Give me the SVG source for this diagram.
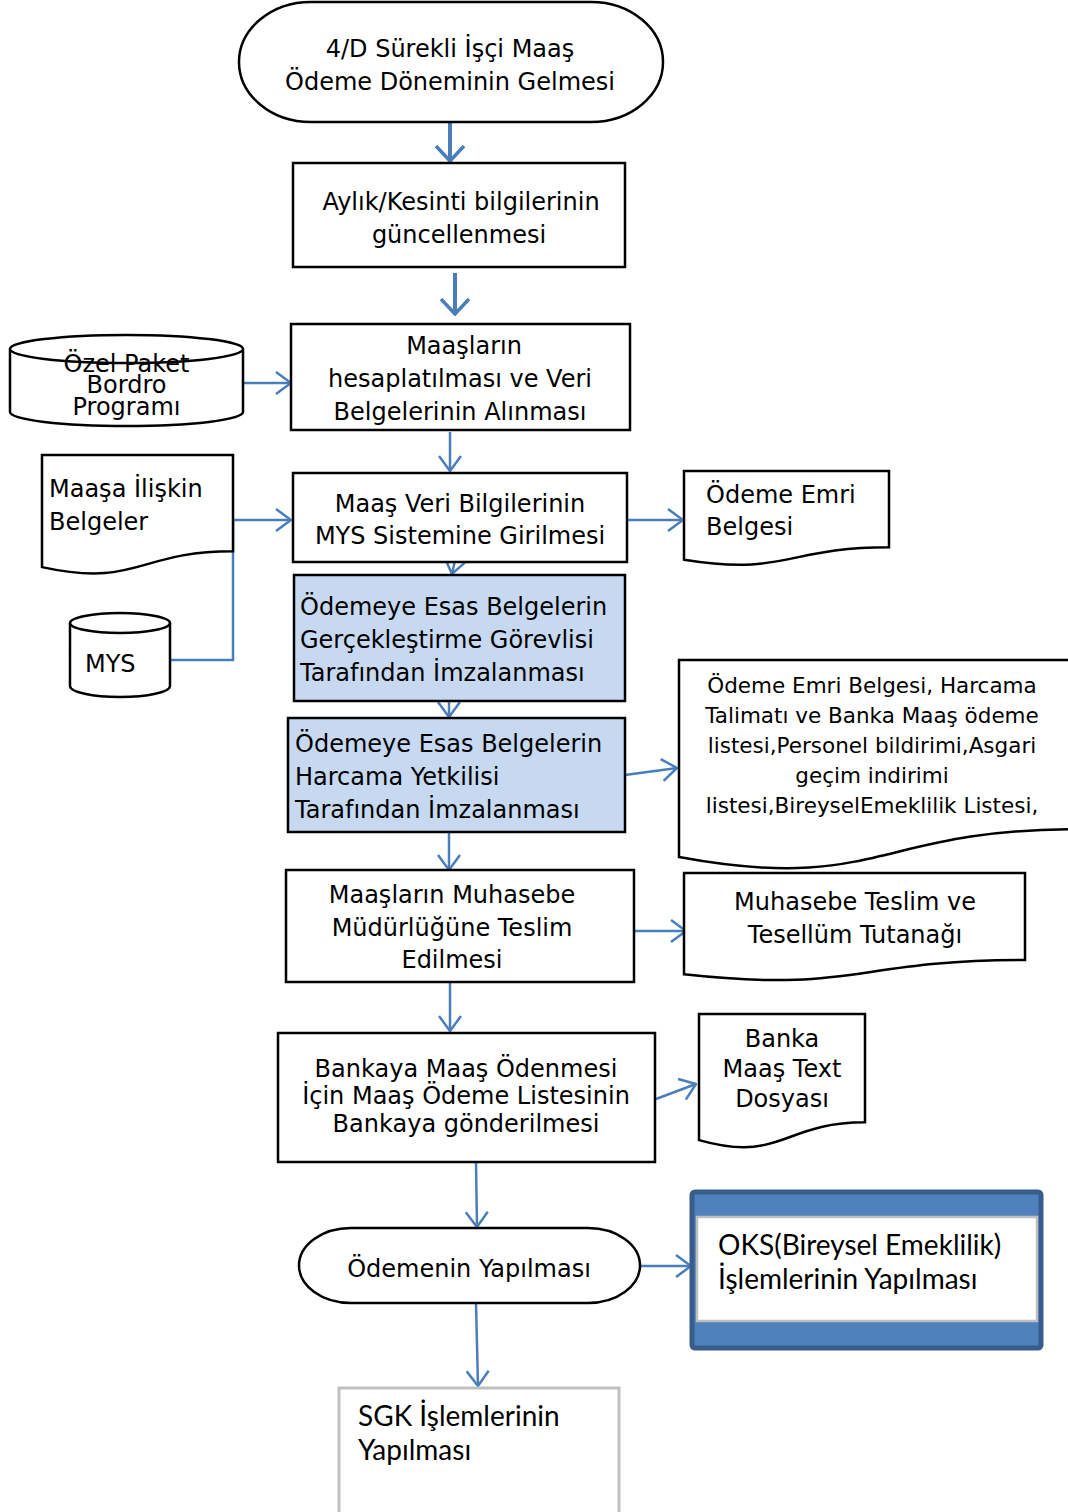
<svg xmlns="http://www.w3.org/2000/svg" width="1068" height="1512" viewBox="0 0 1068 1512">
<style>
.s{fill:#fff;stroke:#000;stroke-width:2.5}
.b{fill:#c6d9f1;stroke:#000;stroke-width:2.5}
.t{font-family:"DejaVu Sans",Verdana,sans-serif;font-size:24px;fill:#000}
.c{text-anchor:middle}
.sm{font-size:21.5px}
.g{font-family:Lato,"Open Sans",sans-serif;font-size:28px;fill:#000}
.cn{fill:none;stroke:#4a7ebb;stroke-width:2.5}
.ck{fill:none;stroke:#4a7ebb;stroke-width:4}
</style>
<defs>
<marker id="a" markerUnits="userSpaceOnUse" viewBox="0 0 17 24" refX="16" refY="12" markerWidth="17" markerHeight="24" orient="auto">
<path d="M1,1 L16,12 L1,23" fill="none" stroke="#4a7ebb" stroke-width="2.5"/>
</marker>
<marker id="ak" markerUnits="userSpaceOnUse" viewBox="0 0 18 32" refX="16" refY="16" markerWidth="18" markerHeight="32" orient="auto">
<path d="M1,2 L16,16 L1,30" fill="none" stroke="#4a7ebb" stroke-width="3.5"/>
</marker>
</defs>

<g id="connectors">
<line class="ck" x1="450" y1="122" x2="450" y2="161" marker-end="url(#ak)"/>
<line class="ck" x1="455" y1="273" x2="455" y2="314" marker-end="url(#ak)"/>
<line class="cn" x1="243" y1="383" x2="291" y2="383" marker-end="url(#a)"/>
<line class="cn" x1="450" y1="432" x2="450" y2="471" marker-end="url(#a)"/>
<polyline class="cn" points="170,660 233,660 233,520 291,520" marker-end="url(#a)"/>
<line class="cn" x1="627" y1="520" x2="683" y2="520" marker-end="url(#a)"/>
<line class="cn" x1="455" y1="560" x2="452" y2="574" marker-end="url(#a)"/>
<line class="cn" x1="449" y1="701" x2="449" y2="717" marker-end="url(#a)"/>
<line class="cn" x1="625" y1="775" x2="677" y2="768" marker-end="url(#a)"/>
<line class="cn" x1="449" y1="832" x2="449" y2="870" marker-end="url(#a)"/>
<line class="cn" x1="632" y1="931" x2="686" y2="931" marker-end="url(#a)"/>
<line class="cn" x1="450" y1="982" x2="450" y2="1031" marker-end="url(#a)"/>
<line class="cn" x1="656" y1="1099" x2="696" y2="1084" marker-end="url(#a)"/>
<line class="cn" x1="476" y1="1163" x2="477" y2="1227" marker-end="url(#a)"/>
<line class="cn" x1="640" y1="1266" x2="691" y2="1266" marker-end="url(#a)"/>
<line class="cn" x1="476" y1="1303" x2="478" y2="1386" marker-end="url(#a)"/>
</g>

<g id="n1">
<rect class="s" x="239" y="2" width="424" height="120" rx="72" ry="60"/>
<text class="t c" x="450" y="57">4/D Sürekli İşçi Maaş</text>
<text class="t c" x="450" y="90">Ödeme Döneminin Gelmesi</text>
</g>

<g id="n2">
<rect class="s" x="293" y="163" width="332" height="104"/>
<text class="t c" x="461" y="210">Aylık/Kesinti bilgilerinin</text>
<text class="t c" x="459" y="243">güncellenmesi</text>
</g>

<g id="n3">
<rect class="s" x="291" y="324" width="339" height="106"/>
<text class="t c" x="464" y="354">Maaşların</text>
<text class="t c" x="460" y="387">hesaplatılması ve Veri</text>
<text class="t c" x="460" y="420">Belgelerinin Alınması</text>
</g>

<g id="db1">
<path class="s" d="M10,349 A116.5,14 0 0,1 243,349 V412 A116.5,14 0 0,1 10,412 Z"/>
<path class="s" fill="none" d="M10,349 A116.5,14 0 0,0 243,349"/>
<text class="t c" x="126.5" y="372">Özel Paket</text>
<text class="t c" x="126.5" y="393">Bordro</text>
<text class="t c" x="126.5" y="415">Programı</text>
</g>

<g id="doc1">
<path class="s" d="M42,455 H233 V551.2 C137.5,551.2 137.5,587.9 42,567.1 Z"/>
<text class="t" x="49" y="497">Maaşa İlişkin</text>
<text class="t" x="49" y="530">Belgeler</text>
</g>

<g id="db2">
<path class="s" d="M70,623 A50,10 0 0,1 170,623 V686 A50,11 0 0,1 70,686 Z"/>
<path class="s" fill="none" d="M70,623 A50,10 0 0,0 170,623"/>
<text class="t" x="85" y="672">MYS</text>
</g>

<g id="n4">
<rect class="s" x="293" y="473" width="334" height="89"/>
<text class="t c" x="460" y="512">Maaş Veri Bilgilerinin</text>
<text class="t c" x="460" y="544">MYS Sistemine Girilmesi</text>
</g>

<g id="doc2">
<path class="s" d="M684,471 H889 V547.2 C786.5,547.2 786.5,576.2 684,559.7 Z"/>
<text class="t" x="706" y="503">Ödeme Emri</text>
<text class="t" x="706" y="535">Belgesi</text>
</g>

<g id="n5">
<rect class="b" x="294" y="575" width="331" height="126"/>
<text class="t" x="300" y="615">Ödemeye Esas Belgelerin</text>
<text class="t" x="300" y="648">Gerçekleştirme Görevlisi</text>
<text class="t" x="300" y="681">Tarafından İmzalanması</text>
</g>

<g id="n6">
<rect class="b" x="288" y="718" width="337" height="114"/>
<text class="t" x="295" y="752">Ödemeye Esas Belgelerin</text>
<text class="t" x="295" y="785">Harcama Yetkilisi</text>
<text class="t" x="295" y="818">Tarafından İmzalanması</text>
</g>

<g id="doc3">
<path class="s" d="M679,660 H1076 V829.2 C876.5,829.2 876.5,893.7 679,857.1 Z"/>
<text class="t c sm" x="872" y="693">Ödeme Emri Belgesi, Harcama</text>
<text class="t c sm" x="872" y="723">Talimatı ve Banka Maaş ödeme</text>
<text class="t c sm" x="872" y="753">listesi,Personel bildirimi,Asgari</text>
<text class="t c sm" x="872" y="783">geçim indirimi</text>
<text class="t c sm" x="872" y="813">listesi,BireyselEmeklilik Listesi,</text>
</g>

<g id="n7">
<rect class="s" x="286" y="870" width="348" height="112"/>
<text class="t c" x="452" y="903">Maaşların Muhasebe</text>
<text class="t c" x="452" y="936">Müdürlüğüne Teslim</text>
<text class="t c" x="452" y="968">Edilmesi</text>
</g>

<g id="doc4">
<path class="s" d="M684,873 H1025 V960 C854.5,960 854.5,993.2 684,974.3 Z"/>
<text class="t c" x="855" y="910">Muhasebe Teslim ve</text>
<text class="t c" x="855" y="943">Tesellüm Tutanağı</text>
</g>

<g id="n8">
<rect class="s" x="278" y="1033" width="377" height="129"/>
<text class="t c" x="466" y="1077">Bankaya Maaş Ödenmesi</text>
<text class="t c" x="466" y="1104">İçin Maaş Ödeme Listesinin</text>
<text class="t c" x="466" y="1132">Bankaya gönderilmesi</text>
</g>

<g id="doc5">
<path class="s" d="M699,1014 H865 V1122.3 C782,1122.3 782,1163.5 699,1140.1 Z"/>
<text class="t c" x="782" y="1047">Banka</text>
<text class="t c" x="782" y="1077">Maaş Text</text>
<text class="t c" x="782" y="1107">Dosyası</text>
</g>

<g id="n9">
<rect class="s" x="299" y="1228" width="341" height="75" rx="52" ry="37.5"/>
<text class="t c" x="469" y="1277">Ödemenin Yapılması</text>
</g>

<g id="n10">
<rect x="692" y="1192" width="349" height="156" rx="3" fill="#4f81bd" stroke="#385d8a" stroke-width="5"/>
<rect x="697" y="1217" width="340" height="104" fill="#fff" stroke="#bfbfbf" stroke-width="2.5"/>
<text class="g" x="718" y="1255">OKS(Bireysel Emeklilik)</text>
<text class="g" x="718" y="1289">İşlemlerinin Yapılması</text>
</g>

<g id="n11">
<rect x="339" y="1388" width="280" height="140" fill="#fff" stroke="#bfbfbf" stroke-width="3"/>
<text class="g" x="358" y="1426">SGK İşlemlerinin</text>
<text class="g" x="358" y="1460">Yapılması</text>
</g>
</svg>
